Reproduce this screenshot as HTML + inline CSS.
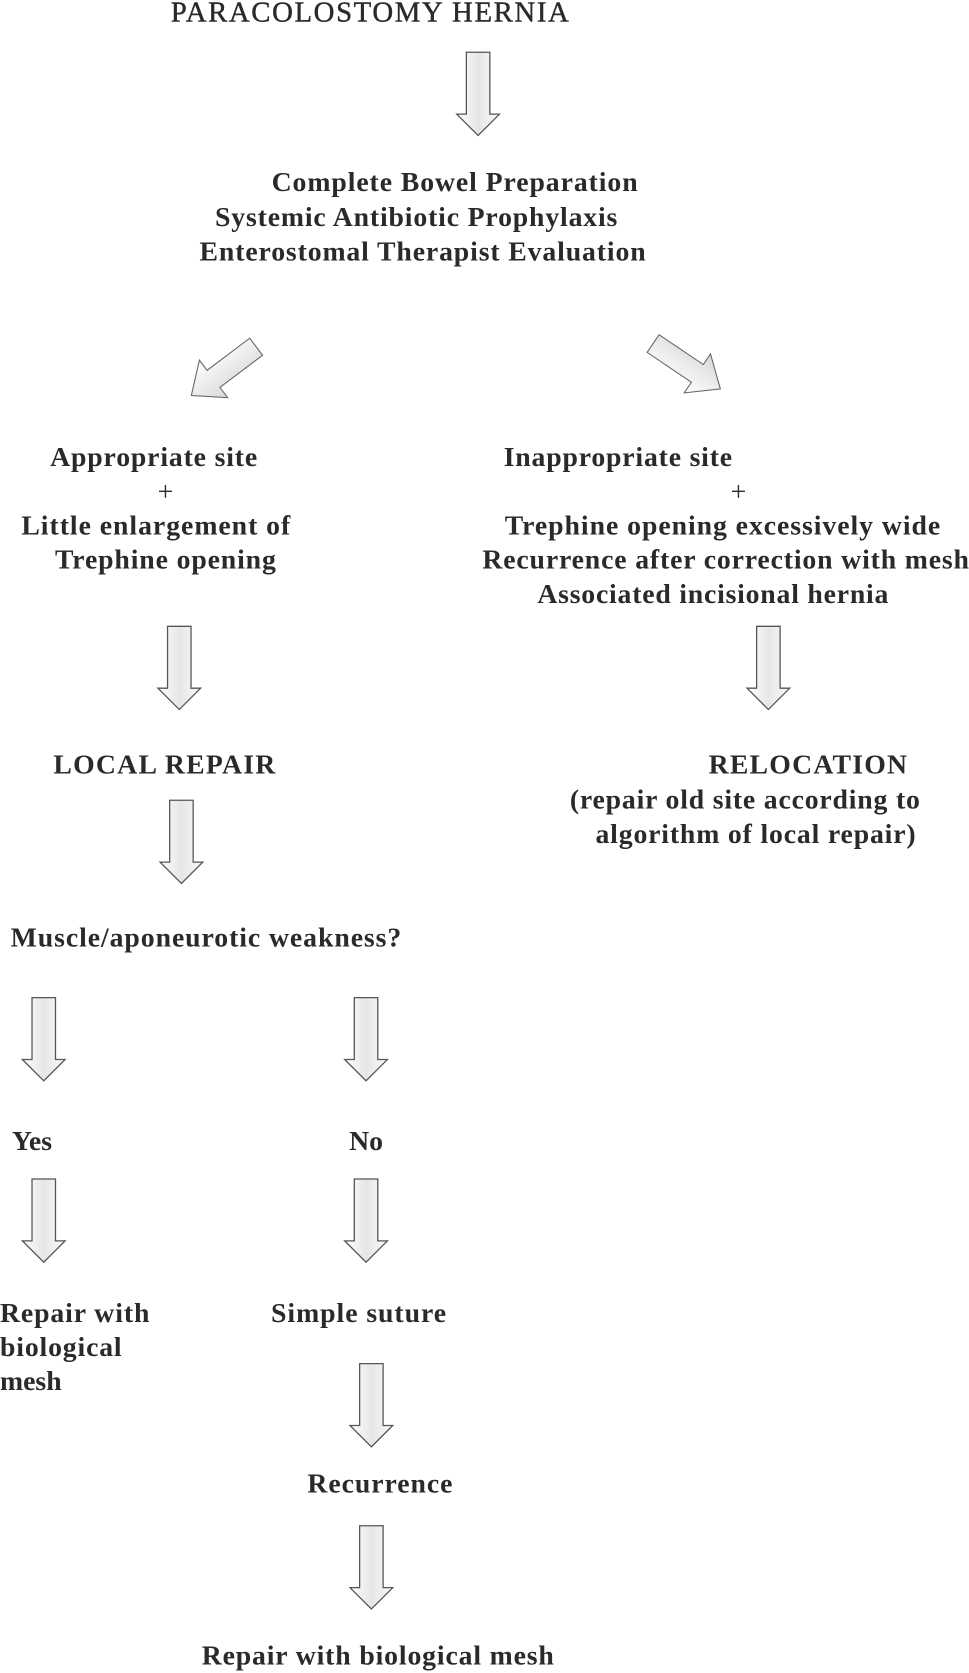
<!DOCTYPE html>
<html><head><meta charset="utf-8"><style>
html,body{margin:0;padding:0;background:#fff;}
svg{display:block;}
text{font-family:"Liberation Serif",serif;font-weight:bold;font-size:26px;fill:#2a2a2a;}
</style></head><body>
<svg width="969" height="1673" viewBox="0 0 908 1568" preserveAspectRatio="none">
<defs>
<linearGradient id="g" x1="0" x2="1" y1="0" y2="0">
<stop offset="0" stop-color="#ffffff"/><stop offset="0.5" stop-color="#e6e6e6"/><stop offset="1" stop-color="#fafafa"/>
</linearGradient>
<linearGradient id="g2" x1="0" x2="0" y1="0" y2="1">
<stop offset="0" stop-color="#d8d8d8"/><stop offset="1" stop-color="#ffffff"/>
</linearGradient>
<g id="da"><path d="M-11,0 H11 V58 H20 L0,78 L-20,58 H-11 Z" fill="url(#g)" stroke="#555" stroke-width="1.2"/></g>
<g id="ra"><path d="M0,-10 H50 V-22 L76,0 L50,22 V10 H0 Z" fill="url(#g2)" stroke="#666" stroke-width="1"/></g>
</defs>
<text x="160" y="20" textLength="373" style="font-weight:normal;font-size:27px;stroke:#2a2a2a;stroke-width:0.4">PARACOLOSTOMY HERNIA</text>
<use href="#da" x="448" y="49"/>
<text x="426" y="179" text-anchor="middle" textLength="343">Complete Bowel Preparation</text>
<text x="390" y="212" text-anchor="middle" textLength="377">Systemic Antibiotic Prophylaxis</text>
<text x="396" y="244" text-anchor="middle" textLength="418">Enterostomal Therapist Evaluation</text>
<use href="#ra" transform="translate(240,325) rotate(143)"/>
<use href="#ra" transform="translate(612,322) rotate(34)"/>
<text x="144" y="437" text-anchor="middle" textLength="194">Appropriate site</text>
<text x="155" y="469" text-anchor="middle" style="font-weight:normal">+</text>
<text x="146" y="501" text-anchor="middle" textLength="252">Little enlargement of</text>
<text x="155" y="533" text-anchor="middle" textLength="207">Trephine opening</text>
<text x="472" y="437" textLength="214">Inappropriate site</text>
<text x="692" y="469" text-anchor="middle" style="font-weight:normal">+</text>
<text x="677" y="501" text-anchor="middle" textLength="408">Trephine opening excessively wide</text>
<text x="680" y="533" text-anchor="middle" textLength="456">Recurrence after correction with mesh</text>
<text x="668" y="565" text-anchor="middle" textLength="329">Associated incisional hernia</text>
<use href="#da" x="168" y="587"/>
<use href="#da" x="720" y="587"/>
<text x="154" y="725" text-anchor="middle" textLength="208">LOCAL REPAIR</text>
<text x="757" y="725" text-anchor="middle" textLength="186">RELOCATION</text>
<text x="698" y="758" text-anchor="middle" textLength="328">(repair old site according to</text>
<text x="708" y="790" text-anchor="middle" textLength="300">algorithm of local repair)</text>
<use href="#da" x="170" y="750"/>
<text x="193" y="887" text-anchor="middle" textLength="366">Muscle/aponeurotic weakness?</text>
<use href="#da" x="41" y="935"/>
<use href="#da" x="343" y="935"/>
<text x="30" y="1078" text-anchor="middle">Yes</text>
<text x="343" y="1078" text-anchor="middle">No</text>
<use href="#da" x="41" y="1105"/>
<use href="#da" x="343" y="1105"/>
<text x="0" y="1239" textLength="140">Repair with</text>
<text x="0" y="1271" textLength="114">biological</text>
<text x="0" y="1303">mesh</text>
<text x="336" y="1239" text-anchor="middle" textLength="164">Simple suture</text>
<use href="#da" x="348" y="1278"/>
<text x="356" y="1399" text-anchor="middle" textLength="136">Recurrence</text>
<use href="#da" x="348" y="1430"/>
<text x="354" y="1560" text-anchor="middle" textLength="330">Repair with biological mesh</text>
</svg>
</body></html>
